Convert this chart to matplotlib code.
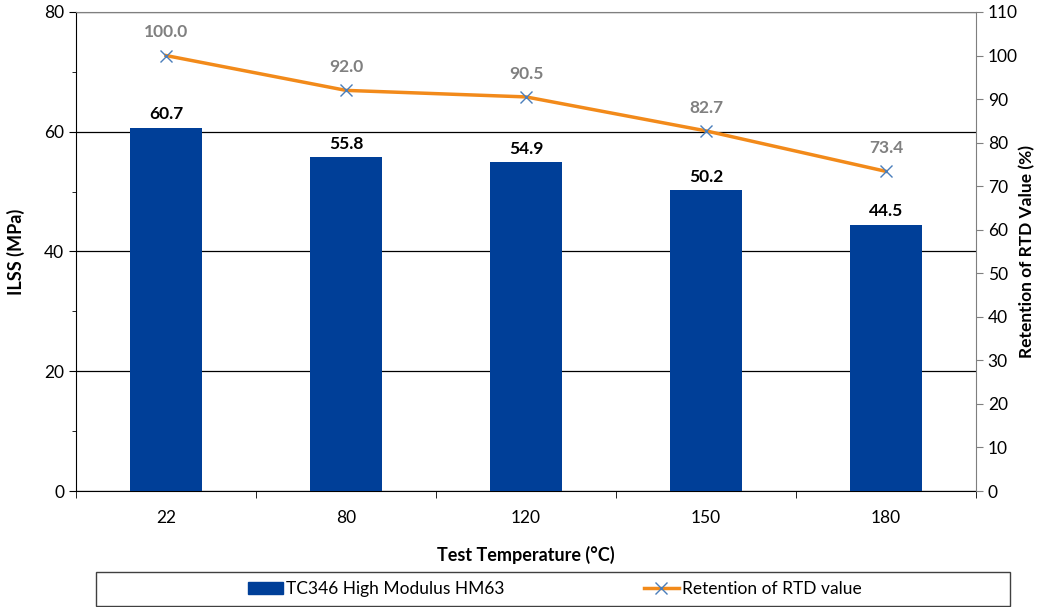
import matplotlib
matplotlib.use("Agg")
import matplotlib.pyplot as plt
from matplotlib.ticker import MultipleLocator
from matplotlib.patches import Patch, Rectangle
from matplotlib.lines import Line2D
import numpy as np

plt.rcParams['font.family'] = ['Lato', 'DejaVu Sans']

categories = ["22", "80", "120", "150", "180"]
ilss = [60.7, 55.8, 54.9, 50.2, 44.5]
retention = [100.0, 92.0, 90.5, 82.7, 73.4]

bar_color = "#003F98"
line_color = "#F28A1A"
marker_color = "#4A7EBB"

fig = plt.figure(figsize=(10.38, 6.07), dpi=100)
ax = fig.add_axes([76/1038, 1-491/607, 900/1038, 479/607])
ax2 = ax.twinx()

x = np.arange(len(categories))
ax.bar(x, ilss, width=0.4, color=bar_color, zorder=3)
ax.set_xlim(-0.5, len(categories)-0.5)
ax.set_ylim(0, 80)
ax.yaxis.set_major_locator(MultipleLocator(20))
ax.yaxis.set_minor_locator(MultipleLocator(10))
ax.grid(axis='y', which='major', color='black', linewidth=0.9, zorder=0)
ax.set_axisbelow(True)
ax.set_xticks(x)
ax.set_xticklabels(categories, fontsize=12.5)
ax.set_xticks(np.arange(-0.5, len(categories)), minor=True)
ax.tick_params(axis='x', which='major', length=0, pad=14)
ax.tick_params(axis='x', which='minor', length=5, direction='out', color='black')
ax.tick_params(axis='y', which='major', length=5, labelsize=12.5, color='black')
ax.tick_params(axis='y', which='minor', length=3, color='black')
for v, val in zip(x, ilss):
    ax.text(v, val + 0.9, f"{val:.1f}", ha='center', va='bottom', fontsize=12.5,
            fontweight='bold', color='black')
ax.set_ylabel("ILSS (MPa)", fontsize=13, fontweight='bold', labelpad=14)
ax.set_xlabel("Test Temperature (°C)", fontsize=13, fontweight='bold', labelpad=14)
ax.spines['top'].set_color('#7f7f7f')
ax.spines['right'].set_visible(False)
ax.spines['left'].set_color('black')
ax.spines['bottom'].set_color('black')

ax2.plot(x, retention, color=line_color, linewidth=2.5, marker='x', markersize=8,
         markeredgecolor=marker_color, markeredgewidth=1.0, zorder=4,
         label="Retention of RTD value")
ax2.set_ylim(0, 110)
ax2.yaxis.set_major_locator(MultipleLocator(10))
ax2.tick_params(axis='y', length=5, labelsize=12.5, color='#7f7f7f')
for sp in ['top', 'left', 'bottom']:
    ax2.spines[sp].set_visible(False)
ax2.spines['right'].set_color('#7f7f7f')
for v, val in zip(x, retention):
    ax2.text(v, val + 3.5, f"{val:.1f}", ha='center', va='bottom', fontsize=12.5,
             fontweight='bold', color='#808080')
ax2.set_ylabel("Retention of RTD Value (%)", fontsize=12.5, fontweight='bold', labelpad=1)

# legend frame
fig.patches.append(Rectangle((96/1038, 1-606/607), 914/1038, 34/607,
                             transform=fig.transFigure, fill=False,
                             edgecolor='#404040', linewidth=1.0))
handles = [Patch(color=bar_color, label="TC346 High Modulus HM63"),
           Line2D([0], [0], color=line_color, linewidth=2.5, marker='x', markersize=8,
                  markeredgecolor=marker_color, markeredgewidth=1.0,
                  label="Retention of RTD value")]
leg = fig.legend(handles=handles, ncol=2, loc='center',
                 bbox_to_anchor=(555/1038, 1-589/607),
                 fontsize=12.5, frameon=False,
                 handlelength=2.0, handletextpad=0.2, columnspacing=8.0)

fig.savefig("out.png", dpi=100)
